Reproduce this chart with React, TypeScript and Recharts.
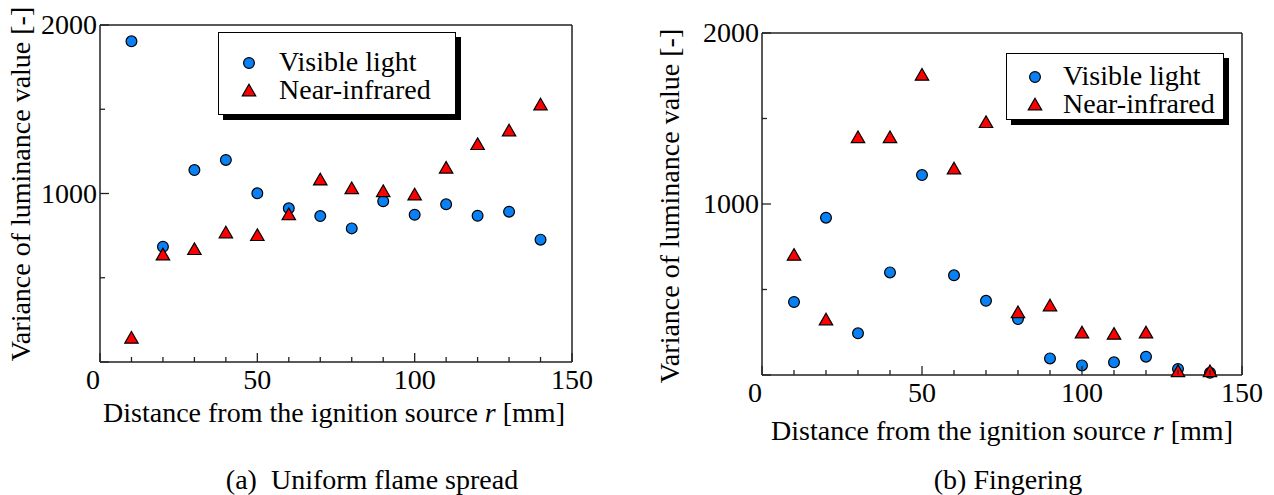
import React from 'react'
import { ScatterChart, Scatter, XAxis, YAxis, Symbols } from 'recharts'

const distance = [10, 20, 30, 40, 50, 60, 70, 80, 90, 100, 110, 120, 130, 140]
const seriesNames = ['Visible light', 'Near-infrared']

// (a) Uniform flame spread
const uniformVisible = [1903, 684, 1139, 1199, 1001, 912, 866, 793, 954, 874, 936, 868, 892, 726]
const uniformNir = [135, 629, 661, 760, 744, 868, 1074, 1022, 1005, 985, 1144, 1284, 1365, 1519]

// (b) Fingering
const fingerVisible = [427, 920, 244, 600, 1169, 583, 434, 327, 97, 56, 74, 107, 35, 13]
const fingerNir = [694, 316, 1382, 1382, 1747, 1199, 1470, 358, 398, 240, 232, 240, 13, 13]

const xTicks = [0, 10, 20, 30, 40, 50, 60, 70, 80, 90, 100, 110, 120, 130, 140, 150]
const xLabels = [0, 50, 100, 150]
const yTicks = [0, 500, 1000, 1500, 2000]
const yLabels = [1000, 2000]

const FONT = "'Liberation Serif', Tinos, 'DejaVu Serif', serif"
const BLUE = '#0a80f5'
const RED = '#ff0000'
const AXIS = '#222'

const toPoints = (ys: number[]) => distance.map((x, i) => ({ x, y: ys[i] }))

const BottomTick = (props: any) => {
  const { x, y, payload } = props
  const v = payload.value
  const len = v % 50 === 0 ? 9 : 5
  return (
    <g>
      <line x1={x} y1={y} x2={x} y2={y - len} stroke={AXIS} strokeWidth={1.3} />
      {xLabels.includes(v) && (
        <text x={v === 0 ? x - 7 : x} y={y + 27} textAnchor="middle" fontSize={28} fontFamily={FONT} fill="#000">
          {v}
        </text>
      )}
    </g>
  )
}

const TopTick = (props: any) => {
  const { x, y, payload } = props
  const len = payload.value % 50 === 0 ? 9 : 5
  return <line x1={x} y1={y} x2={x} y2={y + len} stroke={AXIS} strokeWidth={1.3} />
}

const LeftTick = (props: any) => {
  const { x, y, payload } = props
  const v = payload.value
  const len = v % 1000 === 0 ? 9 : 5
  return (
    <g>
      <line x1={x} y1={y} x2={x + len} y2={y} stroke={AXIS} strokeWidth={1.3} />
      {yLabels.includes(v) && (
        <text x={x - 3} y={y + 9} textAnchor="end" fontSize={28} fontFamily={FONT} fill="#000">
          {v}
        </text>
      )}
    </g>
  )
}

const RightTick = (props: any) => {
  const { x, y, payload } = props
  const len = payload.value % 1000 === 0 ? 9 : 5
  return <line x1={x} y1={y} x2={x - len} y2={y} stroke={AXIS} strokeWidth={1.3} />
}

const Dot = (p: any) => <circle cx={p.cx} cy={p.cy} r={5.4} fill={BLUE} stroke="#000" strokeWidth={1.2} />
const Tri = (p: any) => <Symbols cx={p.cx} cy={p.cy} type="triangle" size={78} fill={RED} stroke="#000" strokeWidth={1.2} />

interface LegendBox {
  left: number
  top: number
  w: number
  h: number
  padTop: number
  markX: number
  textX: number
}

function LegendPanel({ lg }: { lg: LegendBox }) {
  return (
    <div
      style={{
        position: 'absolute',
        left: lg.left,
        top: lg.top,
        width: lg.w,
        height: lg.h,
        boxSizing: 'border-box',
        border: '1.5px solid #000',
        background: '#fff',
        boxShadow: '5px 5px 0 #000',
        fontFamily: FONT,
        fontSize: 28,
      }}
    >
      {seriesNames.map((name, i) => (
        <div key={name} style={{ position: 'absolute', left: 0, top: lg.padTop + i * 28, height: 28, width: '100%' }}>
          <svg width={20} height={20} style={{ position: 'absolute', left: lg.markX - 10, top: 4 }}>
            {i === 0 ? (
              <circle cx={10} cy={10} r={5.4} fill={BLUE} stroke="#000" strokeWidth={1.2} />
            ) : (
              <Symbols cx={10} cy={11} type="triangle" size={78} fill={RED} stroke="#000" strokeWidth={1.2} />
            )}
          </svg>
          <span style={{ position: 'absolute', left: lg.textX, top: -3, lineHeight: '32px', whiteSpace: 'nowrap' }}>{name}</span>
        </div>
      ))}
    </div>
  )
}

interface PanelProps {
  left: number
  width: number
  margin: { top: number; right: number; bottom: number; left: number }
  visible: number[]
  nir: number[]
  legend: LegendBox
  yLabelX: number
  yLabelY: number
  xLabelX: number
  xLabelY: number
  caption: string
  captionX: number
}

function Panel(p: PanelProps) {
  return (
    <div style={{ position: 'absolute', left: p.left, top: 0, width: p.width, height: 495 }}>
      <ScatterChart width={p.width} height={495} margin={p.margin}>
        <XAxis
          xAxisId="b"
          type="number"
          dataKey="x"
          domain={[0, 150]}
          ticks={xTicks}
          height={1}
          tickSize={0}
          tickMargin={0}
          tickLine={false}
          tick={<BottomTick />}
          axisLine={{ stroke: AXIS, strokeWidth: 1.5 }}
          interval={0}
        />
        <XAxis
          xAxisId="t"
          orientation="top"
          type="number"
          domain={[0, 150]}
          ticks={xTicks}
          height={1}
          tickSize={0}
          tickMargin={0}
          tickLine={false}
          tick={<TopTick />}
          axisLine={{ stroke: AXIS, strokeWidth: 1.5 }}
          interval={0}
        />
        <YAxis
          yAxisId="l"
          type="number"
          dataKey="y"
          domain={[0, 2000]}
          ticks={yTicks}
          width={1}
          tickSize={0}
          tickMargin={0}
          tickLine={false}
          tick={<LeftTick />}
          axisLine={{ stroke: AXIS, strokeWidth: 1.5 }}
          interval={0}
        />
        <YAxis
          yAxisId="r"
          orientation="right"
          type="number"
          domain={[0, 2000]}
          ticks={yTicks}
          width={1}
          tickSize={0}
          tickMargin={0}
          tickLine={false}
          tick={<RightTick />}
          axisLine={{ stroke: AXIS, strokeWidth: 1.5 }}
          interval={0}
        />
        <Scatter
          name={seriesNames[0]}
          xAxisId="b"
          yAxisId="l"
          data={toPoints(p.visible)}
          shape={Dot}
          isAnimationActive={false}
        />
        <Scatter
          name={seriesNames[1]}
          xAxisId="b"
          yAxisId="l"
          data={toPoints(p.nir)}
          shape={Tri}
          isAnimationActive={false}
        />
      </ScatterChart>
      <LegendPanel lg={p.legend} />
      <div
        style={{
          position: 'absolute',
          left: p.yLabelX,
          top: p.yLabelY,
          transform: 'translate(-50%, -50%) rotate(-90deg)',
          fontFamily: FONT,
          fontSize: 28,
          whiteSpace: 'nowrap',
          lineHeight: '32px',
        }}
      >
        Variance of luminance value [-]
      </div>
      <div
        style={{
          position: 'absolute',
          left: p.xLabelX,
          top: p.xLabelY,
          transform: 'translate(-50%, -50%)',
          fontFamily: FONT,
          fontSize: 28,
          whiteSpace: 'nowrap',
          lineHeight: '32px',
        }}
      >
        Distance from the ignition source <i>r</i> [mm]
      </div>
      <div
        style={{
          position: 'absolute',
          left: p.captionX,
          top: 480,
          transform: 'translate(-50%, -50%)',
          fontFamily: FONT,
          fontSize: 28,
          whiteSpace: 'pre',
          lineHeight: '32px',
        }}
      >
        {p.caption}
      </div>
    </div>
  )
}

export default function App() {
  return (
    <div style={{ position: 'absolute', left: 0, top: 0, width: 1274, height: 495, background: '#fff', overflow: 'hidden' }}>
      <Panel
        left={0}
        width={640}
        margin={{ top: 24, right: 67, bottom: 132, left: 99 }}
        visible={uniformVisible}
        nir={uniformNir}
        legend={{ left: 218, top: 32, w: 238, h: 83, padTop: 16, markX: 30, textX: 60 }}
        yLabelX={21}
        yLabelY={184}
        xLabelX={334}
        xLabelY={413}
        caption={'(a)  Uniform flame spread'}
        captionX={372}
      />
      <Panel
        left={640}
        width={634}
        margin={{ top: 32, right: 31, bottom: 119, left: 121 }}
        visible={fingerVisible}
        nir={fingerNir}
        legend={{ left: 366, top: 53, w: 218, h: 67, padTop: 9, markX: 28, textX: 56 }}
        yLabelX={30}
        yLabelY={206}
        xLabelX={362}
        xLabelY={431}
        caption={'(b) Fingering'}
        captionX={368}
      />
    </div>
  )
}
